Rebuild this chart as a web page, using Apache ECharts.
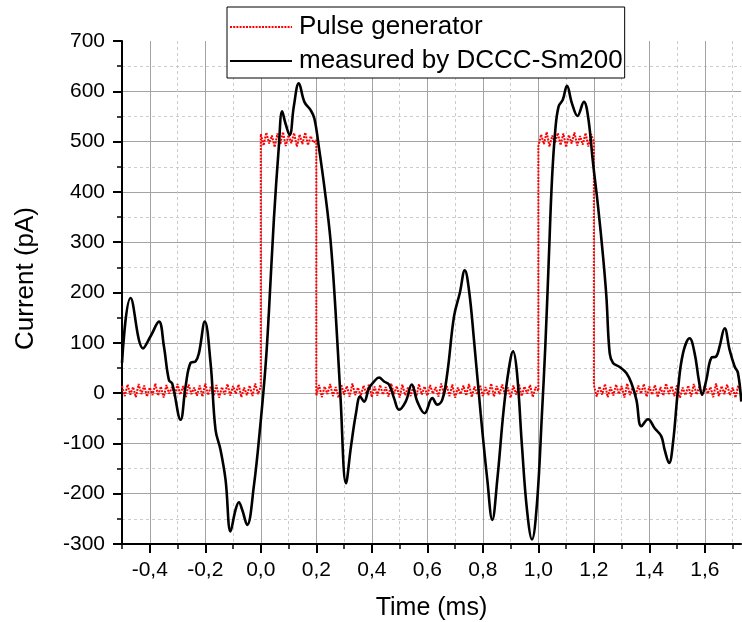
<!DOCTYPE html>
<html>
<head>
<meta charset="utf-8">
<script src="https://cdn.jsdelivr.net/npm/echarts@6/dist/echarts.min.js"></script>
<style>
html,body{margin:0;padding:0;background:#fff;}
#c{width:742px;height:622px;}
</style>
</head>
<body>
<div id="c"></div>
<script>
// ---- data ----
const xMajorTicks = [-0.4,-0.2,0.0,0.2,0.4,0.6,0.8,1.0,1.2,1.4,1.6];
const xMinorTicks = [-0.5,-0.3,-0.1,0.1,0.3,0.5,0.7,0.9,1.1,1.3,1.5,1.7];

// Pulse generator: noisy samples, 0.01 ms apart, per segment (start time in ms)
const pulseStep = 0.01;
const pulseLow1Start = -0.5;
const pulseLow1 = [14,-6,17,-3,12,-8,18,-2,15,-7,11,-4,19,-5,13,-9,16,-1,12,-6,18,-3,14,-8,17,-2,11,-5,15,-7,19,-4,13,-6,16,-9,12,-3,18,-5,14,-1,17,-8,11,-4,15,-6,19,-2,13];
const pulseHigh1Start = 0.0;
const pulseHigh1 = [515,492,518,496,512,489,516,494,519,491,513,497,517,490,514,495,518,493,511,498,503];
const pulseLow2Start = 0.2;
const pulseLow2 = [-5,16,-8,13,-2,18,-6,12,-9,17,-3,14,-7,19,-4,11,-6,15,-1,18,-8,13,-5,16,-3,12,-7,19,-2,14,-9,17,-4,11,-6,15,-8,18,-3,13,-5,16,-1,12,-7,19,-4,14,-6,17,-9,11,-2,15,-5,18,-8,13,-3,16,-6,12,-4,19,-7,14,-2,17,-5,11,-9,15,-3,18,-6,13,-1,16,-8,12,4];
const pulseHigh2Start = 1.0;
const pulseHigh2 = [491,514,495,519,490,512,497,517,493,516,489,513,496,518,492,511,494,517,490,515,500];
const pulseLow3Start = 1.2;
const pulseLow3 = [16,-7,13,-3,18,-8,12,-5,17,-2,14,-9,19,-4,11,-6,15,-1,18,-7,13,-3,16,-8,12,-5,19,-2,14,-6,17,-9,11,-4,15,-7,18,-3,13,-5,16,-1,12,-8,19,-6,14,-2,17,-4,11,-9,15,-3];

// measured by DCCC-Sm200
const measTime = [-0.5,-0.469,-0.424,-0.397,-0.367,-0.349,-0.331,-0.319,-0.289,-0.271,-0.253,-0.235,-0.223,-0.2016,-0.181,-0.163,-0.145,-0.127,-0.109,-0.091,-0.079,-0.067,-0.049,-0.025,-0.001,0.017,0.029,0.047,0.065,0.077,0.089,0.104,0.119,0.137,0.157,0.179,0.193,0.209,0.229,0.251,0.269,0.287,0.307,0.325,0.343,0.358,0.372,0.39,0.408,0.426,0.444,0.462,0.48,0.498,0.522,0.544,0.564,0.59,0.618,0.636,0.654,0.672,0.696,0.717,0.735,0.75,0.768,0.792,0.816,0.834,0.852,0.875,0.893,0.909,0.923,0.941,0.959,0.977,0.995,1.013,1.025,1.037,1.049,1.061,1.073,1.088,1.103,1.121,1.141,1.164,1.179,1.197,1.215,1.233,1.245,1.257,1.269,1.293,1.317,1.335,1.353,1.371,1.395,1.419,1.443,1.455,1.471,1.485,1.503,1.521,1.545,1.563,1.578,1.59,1.605,1.623,1.641,1.653,1.671,1.689,1.707,1.719,1.731];
const measValue = [60,189,89,113,142,93,26,19,-53,13,60,63,79,142,60,-73,-113,-172,-275,-232,-217,-232,-262,-185,-60,53,159,344,490,560,536,513,570,616,579,563,546,490,410,305,166,-7,-179,-106,-40,-7,-17,10,23,31,23,17,-10,-33,-17,17,-17,-40,-10,-23,-13,40,152,199,244,205,106,-40,-172,-252,-172,-33,46,83,40,-106,-232,-291,-219,-40,93,258,424,523,570,583,611,576,551,579,550,457,371,272,192,79,60,52,40,20,-13,-66,-52,-70,-86,-113,-139,-99,7,79,109,79,26,-3,26,70,73,93,129,86,53,40,-17];

// ---- build series data ----
function seg(start, vals){ return vals.map((v,i)=>[+(start + i*pulseStep).toFixed(4), v]); }
const pulseData = [].concat(
  seg(pulseLow1Start, pulseLow1),
  seg(pulseHigh1Start, pulseHigh1),
  seg(pulseLow2Start, pulseLow2),
  seg(pulseHigh2Start, pulseHigh2),
  seg(pulseLow3Start, pulseLow3)
);
const measData = measTime.map((t,i)=>[t, measValue[i]]);

const FONT = 'Liberation Sans, Arial, sans-serif';
const fmt = v => v.toFixed(1).replace('.', ',');

const chart = echarts.init(document.getElementById('c'), null, {renderer:'canvas'});
chart.setOption({
  animation:false,
  backgroundColor:'#fff',
  textStyle:{fontFamily:FONT},
  grid:{left:122, top:41, right:1, bottom:78, containLabel:false, outerBoundsMode:'none'},
  legend:{
    orient:'vertical', left:227, top:7,
    backgroundColor:'#fff', borderColor:'#000', borderWidth:1, borderRadius:0,
    padding:[7,2,4,2], itemGap:8, itemWidth:62, itemHeight:22,
    itemStyle:{opacity:0},
    textStyle:{fontFamily:FONT, fontSize:26, color:'#000', padding:[0,0,0,2]},
    data:['Pulse generator','measured by DCCC-Sm200']
  },
  xAxis:[{
    type:'value', min:-0.5, max:1.73, position:'bottom',
    name:'Time (ms)', nameLocation:'middle', nameGap:52,
    nameTextStyle:{fontFamily:FONT, fontSize:25, color:'#000'},
    axisLine:{show:true, onZero:false, lineStyle:{color:'#000', width:2}},
    axisTick:{show:true, inside:false, length:9, customValues:xMajorTicks, lineStyle:{color:'#000', width:2}},
    axisLabel:{show:true, customValues:xMajorTicks, formatter:fmt, fontFamily:FONT, fontSize:21, color:'#000', margin:16},
    splitLine:{show:true, lineStyle:{color:'#a3a3a3', width:1}},
    minorTick:{show:false}, minorSplitLine:{show:false}
  },{
    type:'value', min:-0.5, max:1.73, position:'bottom',
    axisLine:{show:false, onZero:false},
    axisTick:{show:true, inside:false, length:5, customValues:xMinorTicks, lineStyle:{color:'#000', width:1.5}},
    axisLabel:{show:false, customValues:xMinorTicks},
    splitLine:{show:true, lineStyle:{color:'#cccccc', width:1, type:[3,3]}}
  }],
  yAxis:{
    type:'value', min:-300, max:700, interval:100,
    name:'Current (pA)', nameLocation:'middle', nameGap:83,
    nameTextStyle:{fontFamily:FONT, fontSize:26, color:'#000', padding:[0,0,0,28]},
    axisLine:{show:true, onZero:false, lineStyle:{color:'#000', width:2}},
    axisTick:{show:true, inside:false, length:9, lineStyle:{color:'#000', width:2}},
    minorTick:{show:true, splitNumber:2, length:5, lineStyle:{color:'#000', width:1.5}},
    axisLabel:{fontFamily:FONT, fontSize:21, color:'#000', margin:17},
    splitLine:{show:true, showMaxLine:false, showMinLine:false, lineStyle:{color:'#a3a3a3', width:1}},
    minorSplitLine:{show:true, lineStyle:{color:'#cccccc', width:1, type:[3,3]}}
  },
  series:[{
    name:'Pulse generator', type:'line', xAxisIndex:0, data:pulseData,
    showSymbol:false, symbol:'none',
    lineStyle:{color:'#ff0000', width:2, type:[2,1.2]},
    itemStyle:{color:'#ff0000'}, z:2
  },{
    name:'measured by DCCC-Sm200', type:'line', xAxisIndex:0, data:measData,
    showSymbol:false, symbol:'none', smooth:0.4,
    lineStyle:{color:'#000', width:2.6},
    itemStyle:{color:'#000'}, z:3
  }]
});
</script>
</body>
</html>
